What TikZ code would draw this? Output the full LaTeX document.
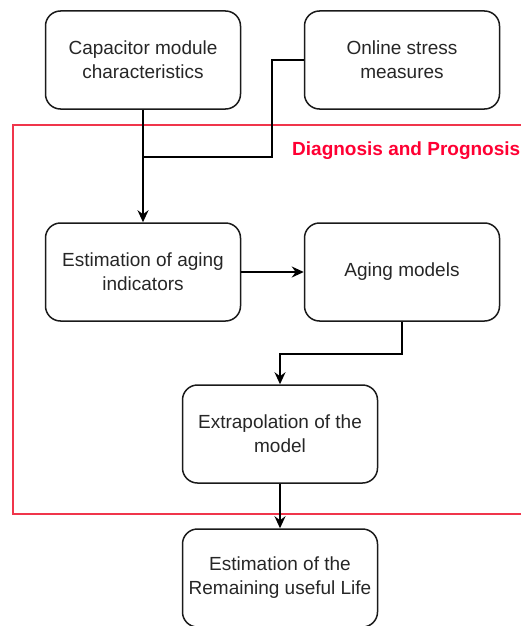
\documentclass[tikz,border=0pt]{standalone}
\usepackage{fontspec}
\setmainfont{Liberation Sans}
\usetikzlibrary{arrows.meta}
\definecolor{boxline}{HTML}{1A1A1A}
\definecolor{redline}{HTML}{F0354B}
\definecolor{redtext}{HTML}{FF0033}
\begin{document}
\begin{tikzpicture}[x=1pt,y=-1pt,
  box/.style={draw=boxline,line width=1.5pt,rounded corners=15pt,minimum width=195pt,minimum height=98pt,align=center,font=\fontsize{19}{24}\selectfont,text=black!85,inner sep=0pt},
  conn/.style={draw=black,line width=1.5pt},
  arr/.style={conn,-{Stealth[length=12pt,width=11pt]}}]
\useasboundingbox (0,0) rectangle (521,626);
\clip (0,0) rectangle (521,626);
\draw[redline,line width=1.3pt] (13,125) rectangle (540,514);
\node[font=\fontsize{19}{22}\selectfont\bfseries,text=redtext,anchor=west,inner sep=0pt] (lbl) at (292,151) {Diagnosis and Prognosis};
\node[box] (cap) at (143,60) {Capacitor module\\characteristics};
\node[box] (onl) at (402,60) {Online stress\\measures};
\node[box] (est) at (143,272) {Estimation of aging\\indicators};
\node[box] (agm) at (402,272) {Aging models};
\node[box] (ext) at (280,434) {Extrapolation of the\\model};
\node[box] (rul) at (280,578) {Estimation of the\\Remaining useful Life};
\coordinate (j1) at (272,157);
\draw[arr] (cap.south) -- (est.north);
\draw[conn] (onl.west) -- (j1 |- onl.west) -- (j1) -- (j1 -| cap.south);
\draw[arr] (est.east) -- (agm.east -| agm.west);
\draw[arr] (agm.south) -- ++(0,32) -| (ext.north);
\draw[arr] (ext.south) -- (rul.north);
\end{tikzpicture}
\end{document}
